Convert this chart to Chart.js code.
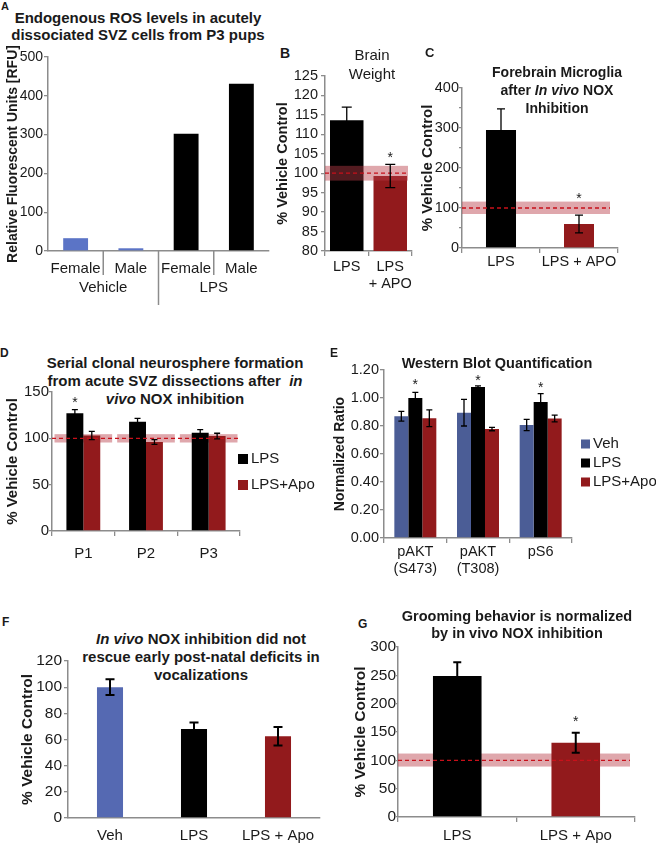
<!DOCTYPE html>
<html>
<head>
<meta charset="UTF-8">
<title>LPS / NOX inhibition panels</title>
<script src="https://cdn.jsdelivr.net/npm/chart.js"></script>
<style>
  body { margin: 0; background: #fff; font-family: "Liberation Sans", Arial, sans-serif; color: #1a1a1a; }
  #fig { position: relative; width: 656px; height: 843px; overflow: hidden; }
  canvas { position: absolute; }
  .ttl { position: absolute; text-align: center; font-weight: bold; font-size: 15px; line-height: 18px; white-space: nowrap; }
  .let { position: absolute; font-weight: bold; font-size: 13px; line-height: 1; }
</style>
</head>
<body>
<div id="fig">
  <div class="let" style="left:1px;top:1px;font-size:11px">A</div>
  <div class="ttl" style="left:-12px;width:300px;top:9px;line-height:17px">Endogenous ROS levels in acutely<br>dissociated SVZ cells from P3 pups</div>
  <canvas id="chartA" width="275" height="275" style="left:0;top:40px"></canvas>

  <div class="let" style="left:280px;top:46px;font-size:14px">B</div>
  <div class="ttl" style="left:322px;width:100px;top:45px;font-weight:normal;line-height:19px">Brain<br>Weight</div>
  <canvas id="chartB" width="150" height="275" style="left:270px;top:40px"></canvas>

  <div class="let" style="left:425px;top:46px">C</div>
  <div class="ttl" style="left:457px;width:200px;top:63px;font-size:14px">Forebrain Microglia<br>after <i>In vivo</i> NOX<br>Inhibition</div>
  <canvas id="chartC" width="238" height="275" style="left:418px;top:40px"></canvas>

  <div class="let" style="left:0;top:347px;font-size:12px">D</div>
  <div class="ttl" style="left:25px;width:300px;top:354px">Serial clonal neurosphere formation<br>from acute SVZ dissections after &nbsp;<i>in</i><br><i>vivo</i> NOX inhibition</div>
  <canvas id="chartD" width="330" height="240" style="left:0;top:340px"></canvas>

  <div class="let" style="left:330px;top:347px;font-size:12px">E</div>
  <div class="ttl" style="left:347px;width:300px;top:354px;font-size:14.5px">Western Blot Quantification</div>
  <canvas id="chartE" width="326" height="250" style="left:330px;top:340px"></canvas>

  <div class="let" style="left:2px;top:616px;font-size:12px">F</div>
  <div class="ttl" style="left:51px;width:300px;top:630px"><i>In vivo</i> NOX inhibition did not<br>rescue early post-natal deficits in<br>vocalizations</div>
  <canvas id="chartF" width="330" height="243" style="left:0;top:600px"></canvas>

  <div class="let" style="left:358px;top:618px;font-size:12px">G</div>
  <div class="ttl" style="left:367px;width:300px;top:608px;font-size:14.5px;line-height:17px">Grooming behavior is normalized<br>by in vivo NOX inhibition</div>
  <canvas id="chartG" width="326" height="243" style="left:330px;top:600px"></canvas>
</div>

<script>
// ---- data ----
// A: endogenous ROS (RFU)
const rosLabels = ['Female', 'Male', 'Female', 'Male'];
const rosGroups = ['Vehicle', 'LPS'];
const rosValues = [33, 7, 302, 431];

// level of the vehicle control (%), shown as dashed line
const controlLevel = 100;

// B: brain weight
const brainLabels = ['LPS', ['LPS', '+ APO']];
const brainValues = [113.6, 99.3];
const brainErrors = [3.4, 3];
const brainStars = [null, 105];
const brainBand = [98.1, 101.9];

// C: forebrain microglia
const microLabels = ['LPS', 'LPS + APO'];
const microValues = [295, 60];
const microErrors = [53, 22];
const microStars = [null, 132];
const microBand = [85, 116];

// D: serial clonal neurospheres
const sphereLabels = ['P1', 'P2', 'P3'];
const sphereLps = [127, 118, 106];
const sphereLpsErr = [4, 3.5, 3.5];
const sphereApo = [103, 96, 102.5];
const sphereApoErr = [4.5, 2.5, 3];
const sphereStars = [142, null, null];
const sphereBand = [95.5, 104.5];

// E: western blot
const wbLabels = [['pAKT', '(S473)'], ['pAKT', '(T308)'], 'pS6'];
const wbVeh = [0.87, 0.895, 0.807];
const wbVehErr = [0.035, 0.095, 0.04];
const wbLps = [1.0, 1.078, 0.971];
const wbLpsErr = [0.04, 0.008, 0.06];
const wbApo = [0.855, 0.778, 0.854];
const wbApoErr = [0.06, 0.012, 0.024];
const wbStars = [1.12, 1.15, 1.10];

// F: vocalizations
const vocLabels = ['Veh', 'LPS', 'LPS + Apo'];
const vocValues = [100, 68, 62.5];
const vocErrors = [6, 5, 7];

// G: grooming
const groomLabels = ['LPS', 'LPS + Apo'];
const groomValues = [249, 131];
const groomErrors = [24, 17.5];
const groomStars = [null, 174];
const groomBand = [89, 112];

// ---- styles ----
const black = '#000000';
const red = '#921a1c';
const blueA = '#5b74c6';
const blueE = '#4b5d96';
const blueF = '#5569b2';
const axisGray = '#8c8c8c';
const bandFill = 'rgba(185, 60, 70, 0.45)';
const refRed = '#c8101a';

Chart.defaults.font.family = "'Liberation Sans', Arial, sans-serif";
Chart.defaults.color = '#1a1a1a';
Chart.defaults.animation = false;
Chart.defaults.plugins.legend.display = false;
Chart.defaults.plugins.tooltip.enabled = false;

// error bars, control band, stars, group labels, legend
function drawBand(chart, o) {
  const {ctx, chartArea: area, scales: {x, y}} = chart;
  const top = y.getPixelForValue(o.band[1]), bot = y.getPixelForValue(o.band[0]);
  ctx.save();
  ctx.fillStyle = bandFill;
  if (o.bandPerCategory) {
    const w = (area.right - area.left) / chart.data.labels.length * o.bandPerCategory;
    chart.data.labels.forEach((l, i) => {
      const cx = x.getPixelForValue(i);
      ctx.fillRect(cx - w / 2, top, w, bot - top);
    });
  } else {
    ctx.fillRect(area.left, top, area.right - area.left - (o.bandInset || 0), bot - top);
  }
  ctx.restore();
}

const extras = {
  id: 'extras',
  beforeDatasetsDraw(chart, args, o) {
    if (o.band && !o.bandOnTop) drawBand(chart, o);
  },
  afterDatasetsDraw(chart, args, o) {
    const {ctx, chartArea: area, scales: {x, y}} = chart;
    if (o.band && o.bandOnTop) drawBand(chart, o);
    if (o.band) {
      const py = y.getPixelForValue(controlLevel);
      ctx.save();
      ctx.strokeStyle = refRed;
      ctx.lineWidth = 1.3;
      ctx.setLineDash([4, 3]);
      ctx.beginPath();
      ctx.moveTo(area.left, py);
      ctx.lineTo(area.right - (o.bandInset || 0), py);
      ctx.stroke();
      ctx.restore();
    }
    chart.data.datasets.forEach((ds, i) => {
      const meta = chart.getDatasetMeta(i);
      meta.data.forEach((bar, j) => {
        if (ds.errors) {
          const v = ds.data[j], e = ds.errors[j];
          const t = y.getPixelForValue(v + e), b = y.getPixelForValue(v - e);
          const c = o.cap || 4;
          ctx.save();
          ctx.strokeStyle = '#000';
          ctx.lineWidth = o.errWidth || 1.3;
          ctx.beginPath();
          ctx.moveTo(bar.x, t); ctx.lineTo(bar.x, b);
          ctx.moveTo(bar.x - c, t); ctx.lineTo(bar.x + c, t);
          ctx.moveTo(bar.x - c, b); ctx.lineTo(bar.x + c, b);
          ctx.stroke();
          ctx.restore();
        }
        if (ds.stars && ds.stars[j] != null) {
          const py = y.getPixelForValue(ds.stars[j]);
          ctx.save();
          ctx.fillStyle = '#1a1a1a';
          ctx.font = "14px 'Liberation Sans', Arial";
          ctx.textAlign = 'center';
          ctx.textBaseline = 'alphabetic';
          ctx.fillText('*', bar.x, py + 8);
          ctx.restore();
        }
      });
    });
    if (o.groups) {
      const n = chart.data.labels.length, g = o.groups;
      ctx.save();
      ctx.strokeStyle = axisGray;
      ctx.lineWidth = 1.5;
      for (let i = 1; i < n; i++) {
        const px = (x.getPixelForValue(i - 1) + x.getPixelForValue(i)) / 2;
        ctx.beginPath();
        ctx.moveTo(px, area.bottom);
        ctx.lineTo(px, area.bottom + (i % g.size === 0 ? g.longLen : g.shortLen));
        ctx.stroke();
      }
      ctx.fillStyle = '#1a1a1a';
      ctx.font = "15px 'Liberation Sans', Arial";
      ctx.textAlign = 'center';
      ctx.textBaseline = 'middle';
      g.labels.forEach((l, k) => {
        const px = (x.getPixelForValue(k * g.size) + x.getPixelForValue(k * g.size + g.size - 1)) / 2;
        ctx.fillText(l, px, area.bottom + g.offset);
      });
      ctx.restore();
    }
    if (o.legend) {
      const L = o.legend;
      ctx.save();
      ctx.font = "15px 'Liberation Sans', Arial";
      ctx.textBaseline = 'middle';
      chart.data.datasets.forEach((ds, i) => {
        const cy = L.y + i * L.gap;
        ctx.fillStyle = ds.backgroundColor;
        ctx.fillRect(L.x, cy - L.box / 2, L.box, L.box);
        ctx.fillStyle = '#1a1a1a';
        ctx.fillText(ds.label, L.x + L.box + 3, cy);
      });
      ctx.restore();
    }
  }
};

function yAxis(min, max, step, width, title, size, tsize, tpad, tick, pad, fmt) {
  return {
    min: min, max: max,
    ticks: { stepSize: step, autoSkip: false, font: { size: size }, padding: pad, color: '#1a1a1a', callback: fmt },
    grid: { drawOnChartArea: false, tickLength: tick, color: axisGray, lineWidth: 1.3 },
    border: { color: axisGray, width: 1.5 },
    title: { display: true, text: title, font: { size: tsize, weight: 'bold' }, padding: { top: tpad, bottom: 0 }, color: '#1a1a1a' },
    afterFit: s => { s.width = width; }
  };
}

function xAxis(height, size, tick, pad) {
  return {
    ticks: { font: { size: size }, padding: pad, color: '#1a1a1a', maxRotation: 0, autoSkip: false },
    grid: { display: tick > 0, drawOnChartArea: false, tickLength: tick, color: axisGray, lineWidth: 1.3, offset: true },
    border: { color: axisGray, width: 1.5 },
    afterFit: s => { s.height = height; }
  };
}

function makeChart(id, labels, datasets, x, y, padding, ext) {
  return new Chart(document.getElementById(id), {
    type: 'bar',
    data: { labels: labels, datasets: datasets },
    options: {
      responsive: false,
      layout: { padding: padding },
      scales: { x: x, y: y },
      plugins: { extras: ext }
    },
    plugins: [extras]
  });
}

// A
makeChart('chartA', rosLabels,
  [{ data: rosValues, backgroundColor: [blueA, blueA, black, black], barPercentage: 0.45, categoryPercentage: 1 }],
  xAxis(64, 15, 0, 9),
  yAxis(0, 500, 100, 48, 'Relative Fluorescent Units [RFU]', 14, 14, 5, 4, 1),
  { top: 17, right: 6 },
  { groups: { labels: rosGroups, size: 2, shortLen: 24, longLen: 54, offset: 37 } });

// B
makeChart('chartB', brainLabels,
  [{ data: brainValues, errors: brainErrors, stars: brainStars, backgroundColor: [black, red], barPercentage: 0.77, categoryPercentage: 1 }],
  xAxis(64, 14.5, 5, 2),
  yAxis(80, 125, 5, 55, '% Vehicle Control', 14.5, 14.5, 4, 4, 3),
  { top: 36, right: 8 },
  { band: brainBand, bandOnTop: true, bandInset: 4, cap: 5 });

// C
makeChart('chartC', microLabels,
  [{ data: microValues, errors: microErrors, stars: microStars, backgroundColor: [black, red], barPercentage: 0.385, categoryPercentage: 1 }],
  xAxis(67, 14.5, 5, 0),
  yAxis(0, 400, 50, 44, '% Vehicle Control', 14.5, 15, 1, 3, 0, v => (v % 100 === 0 ? v : '')),
  { top: 48, right: 38 },
  { band: microBand, bandInset: 8, cap: 4 });

// D
makeChart('chartD', sphereLabels,
  [
    { label: 'LPS', data: sphereLps, errors: sphereLpsErr, stars: sphereStars, backgroundColor: black, barPercentage: 1, categoryPercentage: 0.54 },
    { label: 'LPS+Apo', data: sphereApo, errors: sphereApoErr, backgroundColor: red, barPercentage: 1, categoryPercentage: 0.54 }
  ],
  xAxis(49, 15, 5, 9),
  yAxis(0, 150, 50, 52, '% Vehicle Control', 15, 15, 4, 3, 0),
  { top: 52, right: 90 },
  { band: sphereBand, bandPerCategory: 0.92, cap: 3, legend: { x: 238, y: 119, gap: 26, box: 10 } });

// E
makeChart('chartE', wbLabels,
  [
    { label: 'Veh', data: wbVeh, errors: wbVehErr, backgroundColor: blueE, barPercentage: 1, categoryPercentage: 0.67 },
    { label: 'LPS', data: wbLps, errors: wbLpsErr, stars: wbStars, backgroundColor: black, barPercentage: 1, categoryPercentage: 0.67 },
    { label: 'LPS+Apo', data: wbApo, errors: wbApoErr, backgroundColor: red, barPercentage: 1, categoryPercentage: 0.67 }
  ],
  xAxis(52, 14.5, 5, 0),
  yAxis(0, 1.2, 0.2, 54, 'Normalized Ratio', 14.5, 14, 2, 4, 1, v => v.toFixed(2)),
  { top: 30, right: 84 },
  { cap: 3, legend: { x: 251, y: 104, gap: 19, box: 9 } });

// F
makeChart('chartF', vocLabels,
  [{ data: vocValues, errors: vocErrors, backgroundColor: [blueF, black, red], barPercentage: 0.31, categoryPercentage: 1 }],
  xAxis(25, 15, 0, 9),
  yAxis(0, 120, 20, 68, '% Vehicle Control', 15.5, 15.5, 18, 4, 2),
  { top: 61, right: 10 },
  { cap: 4.5, errWidth: 2 });

// G
makeChart('chartG', groomLabels,
  [{ data: groomValues, errors: groomErrors, stars: groomStars, backgroundColor: [black, red], barPercentage: 0.41, categoryPercentage: 1 }],
  xAxis(26, 15, 5, 5),
  yAxis(0, 300, 50, 68, '% Vehicle Control', 15.5, 15.5, 21, 2, 0),
  { top: 47, right: 21 },
  { band: groomBand, bandInset: 5, cap: 4, errWidth: 2 });
</script>
</body>
</html>
